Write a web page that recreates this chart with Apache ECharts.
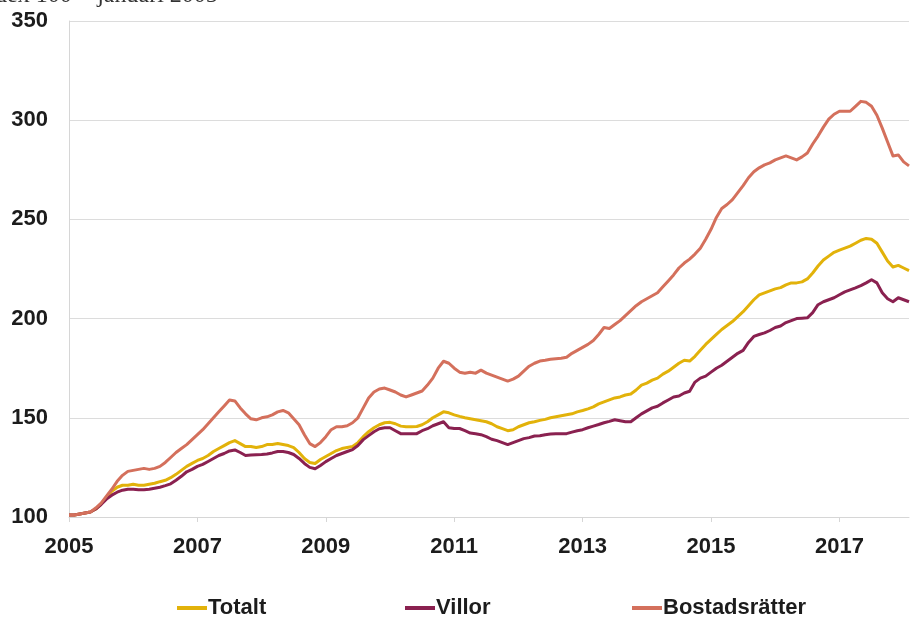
<!DOCTYPE html>
<html lang="sv">
<head>
    <meta charset="UTF-8">
    <title>Bostadspriser, index 100 = januari 2005</title>
    <script src="https://cdn.jsdelivr.net/npm/echarts@6/dist/echarts.min.js"></script>
    <style>
        html, body { margin: 0; padding: 0; background: #fff; }
        #chart { width: 910px; height: 622px; }
    </style>
</head>
<body>
<div id="chart"></div>
<script>
    'use strict';
    // månadsdata, januari 2005 - februari 2018
    const startYear = 2005;
    const seriesNames = ['Totalt', 'Villor', 'Bostadsrätter'];

    const totalt = [
        101, 101, 101.5, 102, 102.5, 104, 106.5, 110, 113, 115, 116, 116,
        116.5, 116, 116, 116.5, 117, 117.8, 118.5, 119.8, 121.5, 123.5, 125.5, 127,
        128.5, 129.5, 131, 133, 134.5, 136, 137.5, 138.5, 137, 135.5, 135.5, 135,
        135.5, 136.5, 136.5, 137, 136.5, 136, 135, 132.5, 129.5, 127.5, 127, 129,
        130.5, 132, 133.5, 134.5, 135, 135.5, 137.5, 140.5, 143, 145, 146.5, 147.5,
        147.7, 147, 145.8, 145.5, 145.5, 145.6, 146.5, 148, 150, 151.5, 153, 152.5,
        151.5, 150.7, 150, 149.5, 149, 148.5, 148, 147, 145.5, 144.5, 143.5, 144,
        145.5, 146.5, 147.5, 148, 148.7, 149.2, 150, 150.5, 151, 151.5, 152, 153,
        153.7, 154.5, 155.5, 157, 158, 159, 160, 160.5, 161.5, 162, 164, 166.5,
        167.5, 169, 170, 172, 173.5, 175.5, 177.5, 179, 178.6, 181, 184, 187,
        189.5, 192, 194.5, 196.5, 198.5, 201, 203.5, 206.5, 209.5, 212, 213, 214,
        215, 215.6, 217, 218, 218, 218.5, 220, 223, 226.5, 229.5, 231.5, 233.4,
        234.5, 235.5, 236.5, 238, 239.5, 240.4, 240, 238, 233.5, 229, 226, 226.8,
        225.5, 224.2
    ];

    const villor = [
        101, 101, 101.5, 102, 102.5, 104, 106.3, 109, 111, 112.5, 113.5, 114,
        114, 113.7, 113.7, 114, 114.5, 115, 115.8, 116.7, 118.5, 120.5, 122.8, 124,
        125.5, 126.5, 128, 129.5, 131, 132, 133.3, 133.8, 132.5, 131, 131.2, 131.4,
        131.5, 131.8, 132.3, 133, 133, 132.5, 131.5, 129.5, 127, 125, 124.3, 126,
        127.9, 129.5, 131, 132, 133, 134, 136, 139, 141, 143, 144.5, 145,
        145, 143.5, 142, 142, 142, 142, 143.5, 144.5, 146, 147, 148, 145,
        144.6, 144.6, 143.5, 142.3, 142, 141.5, 140.5, 139.2, 138.5, 137.5, 136.5, 137.5,
        138.5, 139.5, 140, 140.8, 141, 141.5, 141.8, 142, 142, 142, 142.8, 143.5,
        144, 145, 145.8, 146.6, 147.5, 148.2, 149, 148.5, 148, 148, 150, 152,
        153.5, 155, 155.8, 157.5, 159, 160.5, 161, 162.5, 163.4, 168, 170, 171,
        173, 175, 176.5, 178.5, 180.5, 182.5, 184, 188, 191, 192, 192.8, 194,
        195.5, 196.3, 198, 199, 200, 200.2, 200.4, 203, 207, 208.5, 209.5, 210.5,
        212, 213.5, 214.5, 215.5, 216.6, 218, 219.6, 218, 213, 210, 208.5, 210.5,
        209.5, 208.5
    ];

    const bostadsratter = [
        101, 101, 101.5, 102, 102.5, 104.5, 107, 110.5, 114, 118, 121, 123,
        123.5, 124, 124.5, 124, 124.5, 125.5, 127.5, 130, 132.5, 134.5, 136.5, 139,
        141.5, 144, 147, 150, 153, 156, 159, 158.5, 155, 152, 149.5, 149,
        150, 150.5, 151.5, 153, 153.7, 152.5, 149.5, 146.5, 141.5, 137, 135.5, 137.5,
        140.5, 144, 145.5, 145.5, 146, 147.5, 150, 155, 160, 163, 164.5, 165,
        164, 163, 161.5, 160.5, 161.5, 162.5, 163.5, 166.5, 170, 175, 178.5, 177.5,
        175, 173, 172.5, 173, 172.5, 174, 172.5, 171.5, 170.5, 169.5, 168.5, 169.5,
        171, 173.5, 176, 177.5, 178.6, 179, 179.5, 179.8, 180, 180.5, 182.5, 184,
        185.5, 187, 189, 192, 195.5, 195, 197, 199, 201.5, 204, 206.5, 208.5,
        210, 211.5, 213, 216, 219, 222, 225.5, 228, 230, 232.5, 235.5, 240,
        245, 251, 255.5, 257.5, 260, 263.5, 267, 271, 274, 276, 277.5, 278.5,
        280, 281, 282, 281, 280, 281.5, 283.5, 288, 292, 296.5, 300.5, 303,
        304.5, 304.5, 304.5, 307, 309.5, 309, 307, 302.5, 296, 289, 282, 282.5,
        279, 277
    ];

    const colors = ['#E2B20A', '#8A2150', '#D4705C'];

    let months = [];
    for (let i = 0; i < totalt.length; i++) {
        let y = startYear + Math.floor(i / 12);
        let m = (i % 12) + 1;
        months.push(y + '-' + (m < 10 ? '0' + m : m));
    }

    let labelFont = {
        fontFamily: 'Liberation Sans, Arial, sans-serif',
        fontWeight: 'bold',
        fontSize: 22,
        color: '#1c1c1c'
    };

    function legendAt(name, left) {
        return {
            data: [name],
            left: left,
            top: 592,
            icon: 'rect',
            itemWidth: 30,
            itemHeight: 4,
            textStyle: Object.assign({}, labelFont, {padding: [0, 0, 0, -4]})
        };
    }

    let chart = echarts.init(document.getElementById('chart'));
    let option = {
        backgroundColor: '#ffffff',
        animation: false,
        color: colors,
        title: {
            text: 'Index 100 = januari 2005',
            left: -30,
            top: -21,
            textStyle: {
                fontFamily: 'Liberation Serif, Times New Roman, serif',
                fontWeight: 'normal',
                fontSize: 24,
                color: '#333'
            }
        },
        legend: [
            legendAt(seriesNames[0], 172),
            legendAt(seriesNames[1], 400),
            legendAt(seriesNames[2], 627)
        ],
        grid: {
            left: 69,
            right: 1,
            top: 21,
            bottom: 105
        },
        xAxis: {
            type: 'category',
            data: months,
            boundaryGap: false,
            axisLine: {lineStyle: {color: '#d6d6d6', width: 1}},
            axisTick: {show: true, interval: 23, length: 5, lineStyle: {color: '#d6d6d6'}},
            axisLabel: Object.assign({}, labelFont, {
                interval: 23,
                margin: 19,
                formatter: function (v) { return v.slice(0, 4); }
            }),
            splitLine: {show: false}
        },
        yAxis: {
            type: 'value',
            min: 100,
            max: 350,
            interval: 50,
            axisLine: {show: true, lineStyle: {color: '#d6d6d6', width: 1}},
            axisTick: {show: false},
            axisLabel: Object.assign({}, labelFont, {margin: 21}),
            splitLine: {lineStyle: {color: '#dcdcdc', width: 1}}
        },
        series: [
            {name: seriesNames[0], type: 'line', data: totalt},
            {name: seriesNames[1], type: 'line', data: villor},
            {name: seriesNames[2], type: 'line', data: bostadsratter}
        ].map(function (s) {
            s.showSymbol = false;
            s.symbol = 'none';
            s.lineStyle = {width: 3, join: 'round'};
            return s;
        })
    };
    chart.setOption(option);
</script>
</body>
</html>
